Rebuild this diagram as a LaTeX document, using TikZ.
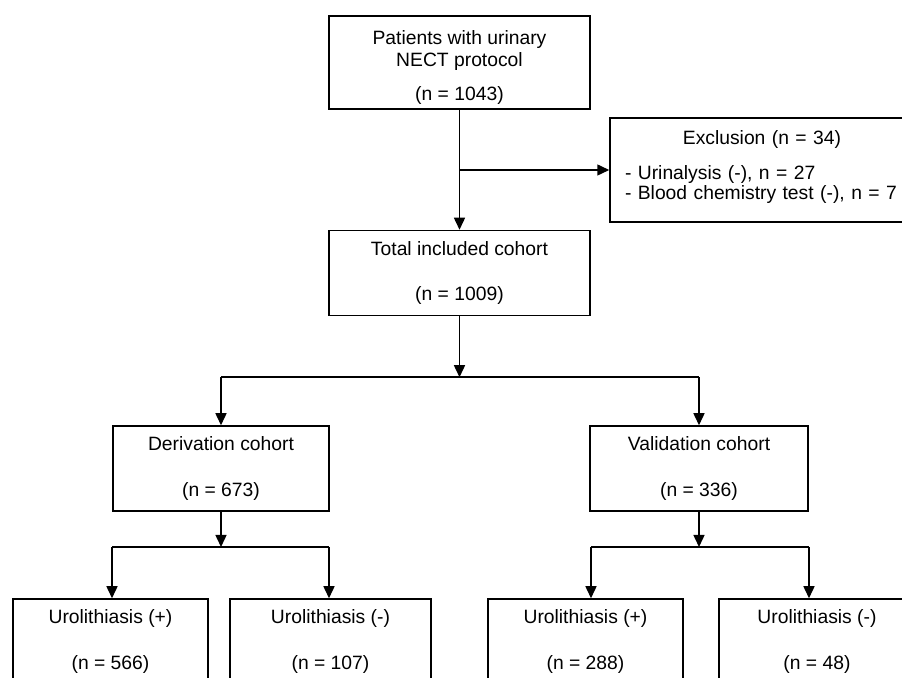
\documentclass[tikz,border=0pt]{standalone}
\usepackage{fontspec}
\setmainfont{Liberation Sans}
\usetikzlibrary{positioning,arrows.meta}
\newcommand{\lowpad}[1]{\rule[-#1]{0pt}{#1}}
\newcommand{\toppad}[1]{\rule{0pt}{#1}}

\begin{document}
\begin{tikzpicture}[x=0.5pt,y=0.5pt,>={Triangle[length=6pt,width=5.5pt]},line width=0.75pt,every node/.style={font=\fontsize{9.65pt}{11pt}\selectfont}]
\tikzstyle{blk}=[draw,line width=0.75pt,align=center,inner sep=0pt,minimum height=42.5pt]
\useasboundingbox (0,0) rectangle (902,-678);
\clip (0,0) rectangle (902,-678);
\node[blk,minimum width=130.5pt,minimum height=46.5pt] (pat) at (459.5,-62.5) {\toppad{12pt}Patients with urinary\\NECT protocol\\[6pt](n = 1043)};
\node[blk,minimum width=130.5pt,below=60pt of pat] (tot) {Total included cohort\\[11.5pt](n = 1009)\lowpad{1pt}};
\node[blk,minimum width=152pt,minimum height=52pt,text width=137pt,align=left] (exc) at (762,-170) {\makebox[\linewidth]{Exclusion (n = 34)}\\[6.5pt]- Urinalysis (-), n = 27\\[-1pt]- Blood chemistry test (-), n = 7\lowpad{4.5pt}};
\node[blk,minimum width=108pt] (der) at (221,-468.5) {Derivation cohort\\[12pt](n = 673)};
\node[blk,minimum width=109pt] (val) at (699,-468.5) {Validation cohort\\[12pt](n = 336)};
\node[blk,minimum width=97.5pt] (ur1) at (110.5,-641.5) {Urolithiasis (+)\\[12pt](n = 566)};
\node[blk,minimum width=100.5pt] (ur2) at (330.5,-641.5) {Urolithiasis (-)\\[12pt](n = 107)};
\node[blk,minimum width=97.5pt] (ur3) at (585.5,-641.5) {Urolithiasis (+)\\[12pt](n = 288)};
\node[blk,minimum width=98pt] (ur4) at (817,-641.5) {Urolithiasis (-)\\[12pt](n = 48)};
\coordinate[below=30.5pt of tot.south] (s1);
\coordinate (s2l) at (112,-547); \coordinate (s2r) at (329,-547);
\coordinate (s3l) at (591,-547); \coordinate (s3r) at (809,-547);
% exclusion branch
\draw[->] (pat) -- (tot); \draw[->] (pat.south |- exc.west) -- (exc.west);
% cohort split
\draw[->] (tot) -- (s1); \draw (der.north |- s1) -- (val.north |- s1);
\draw[->] (der.north |- s1) -- (der); \draw[->] (val.north |- s1) -- (val);
% derivation
\draw[->] (der) -- (der.south |- s2l); \draw (s2l) -- (s2r);
\draw[->] (s2l) -- (s2l |- ur1.north); \draw[->] (s2r) -- (s2r |- ur2.north);
% validation
\draw[->] (val) -- (val.south |- s3l); \draw (s3l) -- (s3r);
\draw[->] (s3l) -- (s3l |- ur3.north); \draw[->] (s3r) -- (s3r |- ur4.north);
\end{tikzpicture}
\end{document}
